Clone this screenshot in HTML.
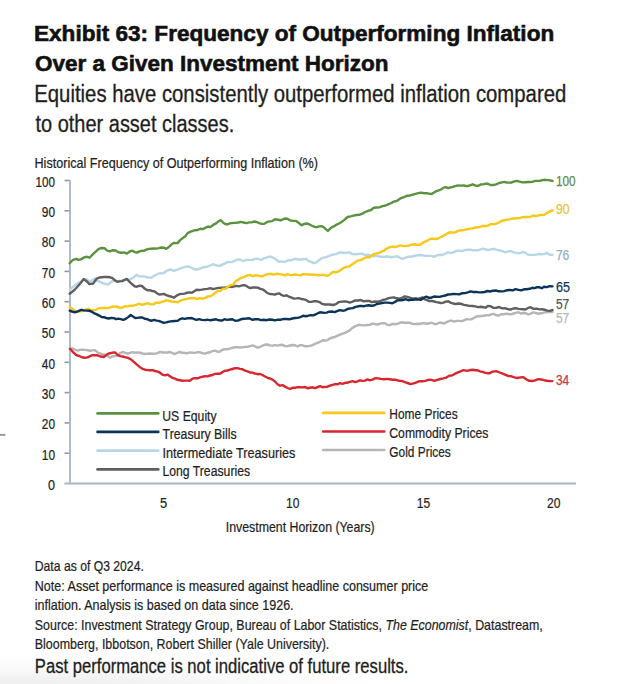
<!DOCTYPE html>
<html><head><meta charset="utf-8"><style>
html,body{margin:0;padding:0;background:#fff;width:640px;height:684px;overflow:hidden}
svg{display:block;font-family:"Liberation Sans", sans-serif}
</style></head><body>
<svg width="640" height="684" viewBox="0 0 640 684">
<defs><radialGradient id="sh" cx="0.5" cy="0.5" r="0.5"><stop offset="0" stop-color="#e4e4e4"/><stop offset="0.5" stop-color="#eeeeee" stop-opacity="0.7"/><stop offset="1" stop-color="#fff" stop-opacity="0"/></radialGradient></defs>
<rect width="640" height="684" fill="#fff"/>
<ellipse cx="20" cy="700" rx="420" ry="48" fill="url(#sh)"/>
<text x="34.0" y="40.8" font-size="22.6" font-weight="bold" fill="#111" text-anchor="start" textLength="520.2" lengthAdjust="spacingAndGlyphs" stroke="#111" stroke-width="0.6">Exhibit 63: Frequency of Outperforming Inflation</text>
<text x="35.0" y="71.2" font-size="22.6" font-weight="bold" fill="#111" text-anchor="start" textLength="353.5" lengthAdjust="spacingAndGlyphs" stroke="#111" stroke-width="0.6">Over a Given Investment Horizon</text>
<text x="34.25" y="101.5" font-size="23" font-weight="normal" fill="#1e1e1e" text-anchor="start" textLength="532.0" lengthAdjust="spacingAndGlyphs" stroke="#1e1e1e" stroke-width="0.3">Equities have consistently outperformed inflation compared</text>
<text x="35.5" y="131.5" font-size="23" font-weight="normal" fill="#1e1e1e" text-anchor="start" textLength="198.7" lengthAdjust="spacingAndGlyphs" stroke="#1e1e1e" stroke-width="0.3">to other asset classes.</text>
<text x="34.5" y="167.9" font-size="14.3" font-weight="normal" fill="#1e1e1e" text-anchor="start" textLength="283.5" lengthAdjust="spacingAndGlyphs" stroke-width="0.22" stroke="#1e1e1e">Historical Frequency of Outperforming Inflation (%)</text>
<text x="55" y="489.8" font-size="14" font-weight="normal" fill="#1e1e1e" text-anchor="end" textLength="7.0" lengthAdjust="spacingAndGlyphs" stroke-width="0.22" stroke="#1e1e1e">0</text>
<line x1="64.5" y1="453.2" x2="70" y2="453.2" stroke="#8f9aa6" stroke-width="1.6"/>
<text x="55" y="459.5" font-size="14" font-weight="normal" fill="#1e1e1e" text-anchor="end" textLength="13.2" lengthAdjust="spacingAndGlyphs" stroke-width="0.22" stroke="#1e1e1e">10</text>
<line x1="64.5" y1="422.9" x2="70" y2="422.9" stroke="#8f9aa6" stroke-width="1.6"/>
<text x="55" y="429.2" font-size="14" font-weight="normal" fill="#1e1e1e" text-anchor="end" textLength="13.2" lengthAdjust="spacingAndGlyphs" stroke-width="0.22" stroke="#1e1e1e">20</text>
<line x1="64.5" y1="392.6" x2="70" y2="392.6" stroke="#8f9aa6" stroke-width="1.6"/>
<text x="55" y="398.9" font-size="14" font-weight="normal" fill="#1e1e1e" text-anchor="end" textLength="13.2" lengthAdjust="spacingAndGlyphs" stroke-width="0.22" stroke="#1e1e1e">30</text>
<line x1="64.5" y1="362.3" x2="70" y2="362.3" stroke="#8f9aa6" stroke-width="1.6"/>
<text x="55" y="368.6" font-size="14" font-weight="normal" fill="#1e1e1e" text-anchor="end" textLength="13.2" lengthAdjust="spacingAndGlyphs" stroke-width="0.22" stroke="#1e1e1e">40</text>
<line x1="64.5" y1="332.0" x2="70" y2="332.0" stroke="#8f9aa6" stroke-width="1.6"/>
<text x="55" y="338.3" font-size="14" font-weight="normal" fill="#1e1e1e" text-anchor="end" textLength="13.2" lengthAdjust="spacingAndGlyphs" stroke-width="0.22" stroke="#1e1e1e">50</text>
<line x1="64.5" y1="301.7" x2="70" y2="301.7" stroke="#8f9aa6" stroke-width="1.6"/>
<text x="55" y="308.0" font-size="14" font-weight="normal" fill="#1e1e1e" text-anchor="end" textLength="13.2" lengthAdjust="spacingAndGlyphs" stroke-width="0.22" stroke="#1e1e1e">60</text>
<line x1="64.5" y1="271.4" x2="70" y2="271.4" stroke="#8f9aa6" stroke-width="1.6"/>
<text x="55" y="277.7" font-size="14" font-weight="normal" fill="#1e1e1e" text-anchor="end" textLength="13.2" lengthAdjust="spacingAndGlyphs" stroke-width="0.22" stroke="#1e1e1e">70</text>
<line x1="64.5" y1="241.1" x2="70" y2="241.1" stroke="#8f9aa6" stroke-width="1.6"/>
<text x="55" y="247.4" font-size="14" font-weight="normal" fill="#1e1e1e" text-anchor="end" textLength="13.2" lengthAdjust="spacingAndGlyphs" stroke-width="0.22" stroke="#1e1e1e">80</text>
<line x1="64.5" y1="210.8" x2="70" y2="210.8" stroke="#8f9aa6" stroke-width="1.6"/>
<text x="55" y="217.1" font-size="14" font-weight="normal" fill="#1e1e1e" text-anchor="end" textLength="13.2" lengthAdjust="spacingAndGlyphs" stroke-width="0.22" stroke="#1e1e1e">90</text>
<line x1="64.5" y1="180.5" x2="70" y2="180.5" stroke="#8f9aa6" stroke-width="1.6"/>
<text x="55" y="186.8" font-size="14" font-weight="normal" fill="#1e1e1e" text-anchor="end" textLength="19.4" lengthAdjust="spacingAndGlyphs" stroke-width="0.22" stroke="#1e1e1e">100</text>
<line x1="70" y1="180" x2="70" y2="483.5" stroke="#a5b6c9" stroke-width="1.8"/>
<line x1="64.5" y1="483.5" x2="576" y2="483.5" stroke="#a5b6c9" stroke-width="2"/>
<text x="163.7" y="508.0" font-size="14.6" font-weight="normal" fill="#1e1e1e" text-anchor="middle" textLength="7.2" lengthAdjust="spacingAndGlyphs" stroke-width="0.22" stroke="#1e1e1e">5</text>
<text x="292.8" y="508.0" font-size="14.6" font-weight="normal" fill="#1e1e1e" text-anchor="middle" textLength="13.4" lengthAdjust="spacingAndGlyphs" stroke-width="0.22" stroke="#1e1e1e">10</text>
<text x="423.4" y="508.0" font-size="14.6" font-weight="normal" fill="#1e1e1e" text-anchor="middle" textLength="13.4" lengthAdjust="spacingAndGlyphs" stroke-width="0.22" stroke="#1e1e1e">15</text>
<text x="553.75" y="508.0" font-size="14.6" font-weight="normal" fill="#1e1e1e" text-anchor="middle" textLength="13.4" lengthAdjust="spacingAndGlyphs" stroke-width="0.22" stroke="#1e1e1e">20</text>
<text x="225.8" y="531.9" font-size="14.5" font-weight="normal" fill="#1e1e1e" text-anchor="start" textLength="148.9" lengthAdjust="spacingAndGlyphs" stroke-width="0.22" stroke="#1e1e1e">Investment Horizon (Years)</text>
<path d="M70.0,348.8 L72.5,348.4 L75.0,349.6 L77.5,350.6 L80.0,349.9 L82.5,349.7 L85.0,349.9 L87.5,350.2 L90.0,350.7 L92.5,350.4 L95.0,350.2 L97.5,352.3 L100.0,353.3 L102.5,354.5 L105.0,354.7 L107.5,355.7 L110.0,357.8 L112.5,356.3 L115.0,356.1 L117.5,355.9 L120.0,353.4 L122.5,352.0 L125.0,352.6 L127.5,353.7 L130.0,352.8 L132.5,352.2 L135.0,352.6 L137.5,352.5 L140.0,352.7 L142.5,353.5 L145.0,354.0 L147.5,353.7 L150.0,353.5 L152.5,353.7 L155.0,353.6 L157.5,353.1 L160.0,351.9 L162.5,352.5 L165.0,352.5 L167.5,352.5 L170.0,352.0 L172.5,353.1 L175.0,354.0 L177.5,352.7 L180.0,352.0 L182.5,352.8 L185.0,353.0 L187.5,353.2 L190.0,352.4 L192.5,352.6 L195.0,352.9 L197.5,352.1 L200.0,352.3 L202.5,353.2 L205.0,353.6 L207.5,352.7 L210.0,352.2 L212.5,351.1 L215.0,350.6 L217.5,351.7 L220.0,351.5 L222.5,349.7 L225.0,349.3 L227.5,349.2 L230.0,348.6 L232.5,347.7 L235.0,347.2 L237.5,347.2 L240.0,347.5 L242.5,347.4 L245.0,346.8 L247.5,346.9 L250.0,346.1 L252.5,345.4 L255.0,346.4 L257.5,347.6 L260.0,347.0 L262.5,345.7 L265.0,344.7 L267.5,344.5 L270.0,345.4 L272.5,345.7 L275.0,345.1 L277.5,345.6 L280.0,345.0 L282.5,344.8 L285.0,346.1 L287.5,346.1 L290.0,345.5 L292.5,345.0 L295.0,345.3 L297.5,346.4 L300.0,345.2 L302.5,345.3 L305.0,346.2 L307.5,346.2 L310.0,345.9 L312.5,345.1 L315.0,343.9 L317.5,342.9 L320.0,341.9 L322.5,340.3 L325.0,340.5 L327.5,340.1 L330.0,338.3 L332.5,337.5 L335.0,336.9 L337.5,335.7 L340.0,334.6 L342.5,333.6 L345.0,332.8 L347.5,331.6 L350.0,330.1 L352.5,327.9 L355.0,326.4 L357.5,325.3 L360.0,324.8 L362.5,325.4 L365.0,325.3 L367.5,325.0 L370.0,324.7 L372.5,323.7 L375.0,324.0 L377.5,324.7 L379.9,323.7 L382.4,323.1 L384.9,323.2 L387.3,324.8 L389.8,325.1 L392.3,323.8 L394.8,324.3 L397.2,324.0 L399.7,322.8 L402.2,322.3 L404.7,322.7 L407.2,322.7 L409.6,322.7 L412.1,323.8 L414.6,324.1 L417.0,323.7 L419.5,324.0 L422.0,323.3 L424.4,323.3 L426.9,323.7 L429.4,323.2 L431.8,322.7 L434.3,324.0 L436.8,324.0 L439.3,322.7 L441.8,322.8 L444.2,323.5 L446.7,322.1 L449.2,320.9 L451.7,320.7 L454.1,321.6 L456.6,320.9 L459.1,320.9 L461.5,321.1 L464.0,320.5 L466.5,319.1 L469.0,319.4 L471.4,319.4 L473.9,318.0 L476.4,316.5 L478.9,316.2 L481.4,316.0 L483.8,315.8 L486.3,315.3 L488.8,315.3 L491.2,314.4 L493.7,313.9 L496.2,315.2 L498.6,315.6 L501.1,314.2 L503.6,314.3 L506.0,313.7 L508.5,314.0 L511.0,314.4 L513.5,313.5 L516.0,312.9 L518.4,312.2 L520.9,313.5 L523.4,313.0 L525.9,313.3 L528.3,314.3 L530.8,313.6 L533.3,312.3 L535.7,312.9 L538.2,313.8 L541.1,313.3 L543.9,312.6 L546.8,312.0 L549.6,311.7 L552.5,312.0" fill="none" stroke="#b5b5b5" stroke-width="2.4" stroke-linejoin="round" stroke-linecap="round"/>
<path d="M70.0,348.8 L73.1,352.1 L76.2,355.1 L79.4,356.0 L82.5,357.5 L85.0,357.8 L87.5,357.4 L90.0,356.1 L92.5,355.2 L95.0,355.1 L97.5,355.3 L100.6,356.5 L103.8,357.0 L106.2,355.1 L108.8,353.5 L111.9,352.8 L115.0,352.4 L117.5,354.8 L120.0,356.1 L122.5,356.5 L125.0,357.2 L127.5,357.6 L130.6,359.2 L133.8,361.9 L136.9,364.6 L140.0,367.1 L142.5,368.9 L145.0,369.7 L147.5,370.1 L150.0,370.2 L152.5,370.1 L155.0,371.0 L157.5,371.6 L160.0,372.7 L162.5,374.7 L165.0,375.3 L167.5,374.6 L170.0,376.3 L172.5,377.9 L175.0,378.6 L177.5,379.8 L180.0,380.3 L182.5,380.8 L185.0,380.6 L187.5,380.6 L190.0,380.7 L192.5,378.6 L195.0,378.1 L197.5,378.3 L200.0,377.3 L202.5,376.7 L205.0,376.3 L207.5,376.4 L210.0,375.5 L212.5,375.0 L215.0,373.9 L217.5,373.6 L220.0,373.7 L222.5,372.0 L225.0,370.7 L227.5,370.5 L230.0,369.7 L232.5,369.0 L235.0,368.2 L237.5,368.1 L240.0,368.9 L242.5,369.2 L245.0,370.7 L247.5,371.3 L250.0,372.5 L252.5,372.6 L255.0,373.5 L257.5,374.2 L260.0,374.0 L262.5,375.0 L265.0,376.5 L267.5,377.8 L270.0,378.5 L272.5,379.6 L275.0,381.5 L277.5,384.2 L280.0,385.7 L282.5,385.1 L285.0,386.6 L287.5,388.0 L290.0,389.0 L292.5,387.8 L295.0,387.8 L297.5,387.1 L300.0,387.2 L302.5,387.4 L305.0,387.0 L307.5,388.2 L310.0,387.7 L312.5,387.3 L315.0,388.2 L317.5,387.2 L320.0,386.2 L322.5,387.2 L325.0,386.9 L327.5,386.7 L330.0,385.7 L332.5,384.8 L335.0,384.2 L337.5,384.3 L340.0,383.2 L342.5,383.8 L345.0,382.8 L347.5,382.7 L350.0,381.9 L352.5,381.2 L355.0,382.1 L357.5,381.3 L360.0,380.3 L362.5,380.9 L365.0,380.6 L367.5,379.4 L370.0,380.3 L372.5,379.7 L375.0,378.2 L378.0,378.4 L380.9,378.9 L383.9,379.2 L386.9,378.9 L389.8,379.2 L392.8,379.7 L395.8,379.8 L398.7,380.7 L401.7,380.9 L404.7,382.1 L407.6,383.0 L410.6,384.1 L413.6,383.4 L416.5,382.3 L419.5,381.1 L422.5,381.3 L425.4,380.9 L428.4,379.8 L431.4,379.9 L434.3,380.9 L437.3,379.9 L440.3,379.0 L443.2,378.4 L446.2,377.6 L449.2,375.7 L452.1,375.4 L455.1,373.7 L458.1,372.3 L461.1,371.2 L463.5,370.2 L465.8,370.7 L468.2,370.6 L470.5,370.0 L472.9,369.8 L475.3,370.2 L477.7,370.3 L480.0,371.3 L482.4,371.9 L484.8,372.7 L487.2,373.2 L489.6,373.2 L491.9,371.9 L494.3,371.4 L496.7,371.3 L499.7,372.5 L502.6,373.7 L505.6,374.9 L508.6,376.1 L511.5,376.3 L514.5,377.3 L517.5,378.0 L520.4,377.4 L523.4,377.2 L526.3,379.4 L529.3,380.8 L532.3,381.0 L535.2,380.4 L538.2,379.1 L541.2,379.5 L544.1,380.2 L547.1,380.8 L549.7,381.0 L552.3,381.1" fill="none" stroke="#d8262e" stroke-width="2.4" stroke-linejoin="round" stroke-linecap="round"/>
<path d="M69.7,290.0 L71.9,287.7 L74.1,286.0 L76.3,284.2 L78.8,282.9 L81.3,281.6 L83.8,279.1 L86.6,279.3 L89.4,281.6 L92.2,280.4 L95.0,278.4 L97.5,280.9 L100.0,281.9 L102.5,283.1 L105.3,283.8 L108.2,284.6 L111.0,282.1 L113.8,280.5 L116.3,281.4 L118.8,280.9 L121.3,280.8 L123.8,280.7 L126.3,279.3 L128.8,279.6 L131.3,278.9 L133.8,277.0 L136.3,274.9 L138.8,276.1 L141.3,276.4 L143.8,276.4 L146.3,277.2 L148.8,277.4 L151.3,277.9 L153.8,276.0 L156.3,274.8 L158.8,273.5 L161.3,273.3 L163.8,273.1 L166.3,271.0 L168.8,269.8 L171.3,269.7 L173.8,270.8 L176.9,269.8 L180.0,268.6 L182.5,267.6 L185.1,266.9 L187.6,266.3 L190.1,267.1 L192.7,268.4 L195.2,269.7 L197.7,269.3 L200.3,268.3 L202.8,267.5 L205.3,267.0 L207.9,266.5 L210.4,265.5 L212.8,264.2 L215.2,264.8 L217.5,265.9 L219.9,265.9 L222.3,264.5 L224.7,263.7 L227.0,262.2 L229.4,262.1 L232.2,261.9 L235.1,260.6 L238.0,259.3 L240.8,260.0 L243.7,261.2 L246.5,259.7 L249.3,259.9 L252.2,260.1 L254.6,258.9 L256.9,258.6 L259.3,259.4 L261.7,259.9 L264.1,258.1 L266.5,257.6 L268.9,256.8 L271.3,256.8 L273.8,258.1 L276.4,259.8 L278.9,261.8 L281.3,261.3 L283.6,261.8 L286.0,261.3 L288.4,260.2 L290.6,260.4 L292.8,259.6 L295.0,258.8 L297.9,259.2 L300.9,259.7 L303.8,259.0 L306.2,259.0 L308.7,261.1 L311.2,261.9 L313.6,263.1 L316.1,262.6 L318.6,260.4 L321.0,258.7 L323.5,257.7 L326.1,257.1 L328.6,256.2 L331.2,255.2 L333.8,254.3 L336.3,254.1 L338.9,252.7 L341.5,252.3 L344.1,253.0 L346.8,252.7 L349.4,252.4 L352.0,253.9 L354.6,254.3 L357.3,254.1 L359.9,253.6 L362.6,254.0 L365.2,255.1 L367.8,254.6 L370.4,255.3 L373.1,256.4 L375.7,255.7 L378.3,256.3 L380.9,256.7 L383.6,256.9 L386.2,256.5 L388.9,256.8 L391.5,257.3 L394.4,256.6 L397.4,256.3 L400.3,258.0 L403.0,258.8 L405.8,257.5 L408.5,256.6 L411.2,256.7 L414.1,256.0 L417.1,255.4 L420.0,255.0 L422.8,255.3 L425.6,256.0 L428.4,255.9 L431.2,255.9 L434.0,256.9 L436.8,255.4 L439.6,254.8 L442.5,255.0 L445.3,253.7 L448.1,252.4 L450.9,252.9 L453.7,252.1 L456.6,250.8 L459.4,250.8 L462.2,251.1 L464.9,250.1 L467.6,249.6 L470.4,249.7 L473.1,250.4 L475.8,250.1 L478.5,250.2 L480.9,249.4 L483.2,248.7 L485.6,249.4 L487.9,250.2 L490.3,249.6 L492.6,249.0 L495.0,249.0 L497.3,250.0 L499.6,250.3 L502.4,251.2 L505.2,252.3 L508.1,251.4 L510.9,251.0 L513.7,252.3 L516.0,252.9 L518.4,253.3 L520.7,252.9 L523.0,252.2 L525.4,252.9 L527.7,254.6 L530.0,254.8 L532.4,254.9 L534.8,254.7 L537.1,254.4 L539.4,254.0 L541.8,254.4 L544.5,253.9 L547.1,253.0 L549.8,254.8 L552.5,254.8" fill="none" stroke="#b8d6e6" stroke-width="2.4" stroke-linejoin="round" stroke-linecap="round"/>
<path d="M69.7,293.8 L72.1,291.9 L74.4,290.0 L77.2,287.0 L80.0,283.7 L83.8,279.1 L86.6,281.2 L89.4,284.1 L93.1,283.5 L96.9,278.6 L99.4,277.5 L101.9,277.2 L104.4,276.9 L107.2,277.0 L110.0,277.3 L112.5,278.2 L115.0,280.4 L117.5,281.8 L119.8,281.4 L122.2,281.1 L124.6,279.8 L126.9,279.0 L129.4,281.6 L131.9,284.0 L134.4,286.2 L136.9,286.7 L139.4,285.7 L141.9,286.0 L144.7,288.6 L147.5,290.2 L149.8,290.2 L152.2,291.0 L154.6,291.4 L156.9,293.2 L159.2,294.5 L161.6,294.3 L164.0,293.9 L166.3,295.2 L168.8,296.0 L171.3,296.7 L173.8,297.7 L177.6,295.1 L180.0,294.0 L182.4,293.9 L184.8,293.6 L187.1,292.7 L189.5,292.4 L191.9,292.8 L194.2,291.3 L196.6,289.7 L199.0,290.0 L201.8,289.6 L204.7,289.1 L207.6,288.9 L210.4,288.1 L213.2,289.1 L216.1,288.4 L219.0,287.9 L221.8,287.8 L224.3,287.8 L226.9,287.3 L229.4,286.6 L231.8,287.0 L234.2,286.3 L236.5,285.9 L238.9,286.4 L241.3,285.7 L243.7,285.1 L246.0,285.7 L248.4,287.3 L250.8,288.0 L253.1,287.4 L255.5,287.5 L257.9,287.6 L260.3,288.9 L262.7,289.4 L265.1,291.1 L267.5,293.1 L269.9,294.0 L272.2,294.1 L274.6,294.7 L277.0,293.8 L279.4,293.4 L281.8,295.2 L284.1,295.9 L286.5,295.3 L289.0,296.7 L291.6,297.7 L294.1,298.6 L296.5,298.4 L298.9,298.1 L301.2,299.0 L303.6,299.3 L306.0,299.9 L308.7,301.7 L311.4,301.9 L314.2,301.1 L316.9,301.3 L319.5,302.1 L322.2,303.9 L324.8,304.5 L327.5,304.4 L330.1,304.5 L333.0,305.0 L336.0,304.1 L338.9,302.1 L341.6,301.6 L344.4,301.4 L347.1,301.6 L349.8,302.6 L352.6,301.7 L355.3,300.4 L358.1,300.5 L360.8,300.0 L363.6,301.4 L366.3,301.0 L369.1,300.9 L371.8,302.1 L374.5,301.5 L377.2,301.8 L380.0,301.3 L382.7,300.0 L385.6,299.3 L388.6,298.1 L391.5,297.6 L394.1,297.5 L396.7,298.3 L399.4,298.7 L402.0,297.8 L404.6,296.4 L407.5,296.9 L410.5,297.9 L413.4,298.6 L415.6,298.2 L417.8,299.0 L420.0,298.1 L422.4,297.5 L424.7,299.4 L427.0,300.2 L429.4,301.0 L431.7,300.9 L434.1,301.5 L436.4,302.1 L438.8,302.5 L441.1,303.1 L443.5,302.6 L445.8,301.6 L448.2,301.3 L450.5,302.6 L452.9,303.5 L455.7,304.0 L458.5,303.5 L461.2,303.8 L464.0,304.9 L466.8,305.3 L469.6,305.9 L472.4,306.0 L475.3,306.4 L478.1,307.1 L480.9,306.8 L483.2,307.2 L485.6,307.7 L487.9,305.9 L490.3,306.1 L493.2,307.8 L496.1,307.9 L499.1,307.0 L502.0,308.4 L504.8,308.2 L507.6,309.0 L510.4,309.7 L513.2,308.5 L516.0,308.2 L518.3,308.9 L520.7,309.1 L523.0,309.2 L525.4,309.5 L527.7,308.2 L530.6,307.2 L533.5,308.9 L536.5,308.7 L539.4,309.4 L542.0,309.2 L544.6,309.7 L547.3,310.6 L549.9,310.9 L552.5,310.0" fill="none" stroke="#5f5f5f" stroke-width="2.4" stroke-linejoin="round" stroke-linecap="round"/>
<path d="M69.7,306.9 L71.9,308.5 L74.1,310.2 L76.3,311.8 L78.8,311.7 L81.3,311.1 L83.8,310.7 L86.1,309.3 L88.4,308.9 L90.8,310.2 L93.1,310.1 L95.4,310.0 L97.8,308.7 L100.2,308.2 L102.5,308.0 L105.3,308.0 L108.2,308.2 L111.0,307.0 L113.8,306.4 L116.6,306.5 L119.4,307.5 L122.2,307.7 L125.0,306.2 L127.8,306.4 L130.7,305.7 L133.5,305.5 L136.3,304.9 L139.1,303.7 L141.9,304.8 L144.7,304.3 L147.5,303.2 L150.3,304.2 L153.2,304.4 L156.0,302.7 L158.8,302.8 L161.3,302.2 L163.8,301.4 L166.3,300.1 L169.1,301.0 L171.9,301.5 L174.8,301.8 L177.6,302.2 L180.4,300.7 L183.1,299.7 L185.9,299.1 L188.6,298.5 L191.4,298.0 L194.2,298.2 L197.1,299.0 L200.0,298.2 L202.8,298.6 L205.3,297.9 L207.9,296.4 L210.4,296.3 L212.9,294.8 L215.5,292.5 L218.0,291.0 L220.5,290.7 L223.1,288.8 L225.6,288.7 L228.1,286.5 L230.7,285.1 L233.2,284.6 L235.7,281.3 L238.3,279.8 L240.8,278.0 L243.2,277.4 L245.6,276.2 L247.9,275.1 L250.3,274.9 L252.7,276.2 L255.1,275.5 L257.4,275.4 L259.8,276.2 L262.7,276.2 L265.6,274.9 L268.4,273.9 L271.3,274.0 L274.1,274.6 L277.0,273.7 L279.9,274.1 L282.7,274.9 L285.2,275.3 L287.6,274.2 L290.1,275.1 L292.5,274.9 L295.0,274.5 L297.8,274.9 L300.5,275.3 L303.2,274.2 L306.0,274.1 L308.6,274.7 L311.2,274.4 L313.9,274.7 L316.5,275.0 L319.1,275.3 L321.9,274.7 L324.6,275.2 L327.4,275.9 L330.1,274.2 L332.9,271.9 L335.6,272.3 L338.4,271.5 L341.1,269.7 L343.8,267.8 L346.6,266.9 L349.3,266.4 L352.0,264.6 L354.9,262.6 L357.9,260.5 L360.8,260.1 L363.7,258.5 L366.7,257.1 L369.6,257.2 L372.5,254.9 L375.4,253.6 L378.3,253.3 L381.1,251.9 L383.8,250.7 L386.6,248.6 L389.3,247.3 L392.1,246.6 L394.8,247.0 L397.6,246.3 L400.3,245.4 L403.0,246.1 L405.8,246.1 L408.5,245.8 L411.2,244.6 L414.1,244.2 L417.1,244.8 L420.0,244.7 L422.9,242.7 L425.9,241.4 L428.8,239.7 L431.7,238.5 L434.6,239.0 L437.5,238.8 L440.5,237.3 L443.4,235.8 L445.7,234.5 L448.1,233.0 L450.4,232.2 L452.8,232.5 L455.1,232.4 L458.0,230.9 L461.0,230.3 L463.9,230.1 L466.8,229.2 L469.6,228.7 L472.4,228.4 L475.3,227.5 L478.1,227.3 L480.9,226.6 L483.2,225.8 L485.6,226.0 L487.9,225.6 L490.3,224.2 L493.2,224.2 L496.1,223.7 L499.1,222.5 L502.0,220.7 L504.3,220.3 L506.7,219.7 L509.0,219.4 L511.4,218.8 L513.7,218.5 L516.6,218.3 L519.5,218.1 L522.5,217.2 L525.4,216.9 L527.7,217.0 L530.1,217.0 L532.4,215.8 L534.8,215.8 L537.1,216.1 L539.4,215.2 L541.8,214.9 L544.1,214.7 L546.9,212.9 L549.7,211.5 L552.5,210.5" fill="none" stroke="#f5c81a" stroke-width="2.4" stroke-linejoin="round" stroke-linecap="round"/>
<path d="M69.7,310.7 L71.9,311.5 L74.1,312.2 L76.3,312.0 L78.8,310.9 L81.3,309.8 L83.8,310.4 L86.6,310.6 L89.4,310.7 L91.9,311.8 L94.4,313.4 L96.9,314.4 L99.2,315.6 L101.6,317.0 L104.0,317.2 L106.3,318.0 L108.8,318.5 L111.3,317.9 L113.8,318.1 L116.2,319.2 L118.5,318.7 L120.8,319.2 L123.2,319.8 L125.7,318.9 L128.2,317.1 L130.7,315.0 L133.0,316.5 L135.3,318.0 L137.7,317.9 L140.0,317.4 L142.3,317.5 L144.7,318.8 L147.1,319.1 L149.4,320.3 L151.8,320.7 L154.1,319.9 L156.5,320.6 L158.8,320.9 L161.3,321.9 L163.8,322.9 L166.3,322.4 L169.1,321.6 L171.9,321.3 L174.8,321.0 L177.6,320.9 L180.0,319.1 L182.4,318.3 L184.7,318.9 L187.1,318.3 L189.5,318.2 L191.9,318.0 L194.2,319.2 L196.6,319.9 L199.0,319.1 L201.8,319.9 L204.7,320.1 L207.6,319.7 L210.4,320.3 L213.2,319.8 L216.1,319.3 L219.0,320.3 L221.8,320.6 L224.5,319.2 L227.1,319.9 L229.8,319.5 L232.4,319.2 L235.1,320.7 L237.9,320.6 L240.8,319.3 L243.7,318.7 L246.5,318.5 L249.4,318.2 L252.2,319.8 L255.1,319.3 L258.0,319.1 L260.9,320.1 L263.7,319.7 L266.5,320.2 L269.4,319.5 L272.2,319.8 L275.1,320.4 L277.9,319.7 L280.8,319.7 L283.6,319.0 L286.5,319.0 L289.3,319.3 L292.2,318.5 L295.0,318.0 L297.6,317.9 L300.3,317.2 L302.9,315.8 L305.6,316.2 L308.2,315.7 L310.8,315.1 L313.4,315.4 L316.1,314.2 L318.7,312.8 L321.3,312.3 L323.9,312.9 L326.6,312.6 L329.2,311.7 L331.9,311.5 L334.5,312.1 L337.1,311.1 L339.7,310.1 L342.4,310.7 L345.0,310.4 L347.6,309.0 L350.2,308.4 L352.9,308.1 L355.5,306.9 L358.2,306.3 L360.8,305.9 L363.4,306.3 L366.0,305.6 L368.7,305.2 L371.3,305.7 L373.9,305.5 L376.5,304.2 L379.2,303.6 L381.8,303.1 L384.5,302.6 L387.1,302.6 L389.7,302.9 L392.4,303.2 L395.0,301.9 L397.7,300.3 L400.3,300.4 L402.9,300.0 L405.5,299.2 L408.2,300.2 L410.8,299.7 L413.4,299.7 L416.0,299.4 L418.5,299.6 L421.1,299.7 L423.7,297.8 L426.3,296.7 L428.9,297.8 L431.4,297.7 L434.0,296.5 L436.8,296.7 L439.6,296.9 L442.5,296.1 L445.3,295.5 L448.1,294.5 L450.9,294.3 L453.7,293.9 L456.6,294.1 L459.4,294.4 L462.2,293.2 L465.0,293.1 L467.8,292.4 L470.6,291.4 L473.4,292.0 L476.2,291.9 L479.0,292.4 L481.8,292.3 L484.7,292.0 L487.5,291.0 L490.3,291.5 L493.1,290.7 L495.9,290.5 L498.7,291.3 L501.5,291.4 L504.3,291.1 L507.1,290.2 L509.9,290.0 L512.8,290.4 L515.6,289.2 L518.4,289.8 L521.2,290.4 L524.0,289.3 L526.8,289.2 L529.6,288.8 L532.4,287.8 L534.7,288.1 L537.1,287.1 L539.4,287.3 L541.8,288.2 L544.1,286.8 L546.9,287.1 L549.7,286.2 L552.5,286.4" fill="none" stroke="#0e3358" stroke-width="2.4" stroke-linejoin="round" stroke-linecap="round"/>
<path d="M69.7,263.3 L72.5,260.2 L76.3,258.9 L78.3,259.8 L80.4,259.6 L82.5,258.4 L84.5,257.2 L87.0,256.8 L89.6,257.7 L92.7,254.4 L95.7,251.6 L98.8,248.8 L101.6,248.0 L104.4,248.2 L107.2,250.7 L110.0,251.3 L112.8,250.2 L115.6,250.5 L118.4,252.3 L121.3,252.8 L124.1,252.4 L126.9,253.6 L129.7,251.5 L132.5,250.7 L134.8,252.1 L137.2,252.6 L139.4,251.4 L141.6,250.8 L143.8,250.9 L146.3,249.7 L148.8,248.9 L151.3,248.7 L153.8,248.5 L156.3,248.6 L158.8,248.1 L161.3,247.5 L163.8,247.7 L166.3,248.8 L168.8,247.0 L171.3,244.6 L173.8,243.0 L177.6,243.1 L180.4,239.9 L183.2,237.8 L185.4,236.1 L187.6,233.1 L190.1,231.9 L192.7,230.9 L195.2,230.2 L197.7,230.0 L200.3,228.7 L202.8,229.1 L205.3,227.8 L207.9,226.6 L210.4,227.0 L213.2,224.9 L216.1,223.4 L218.5,221.3 L220.9,220.2 L223.2,222.8 L225.6,224.2 L228.1,224.2 L230.7,223.2 L233.2,222.9 L235.7,222.9 L238.3,222.5 L240.8,221.9 L243.7,222.5 L246.5,223.1 L249.3,222.4 L252.2,222.2 L254.6,221.5 L256.9,222.2 L259.3,223.1 L261.7,223.9 L264.3,223.7 L266.8,222.2 L269.4,221.4 L272.2,221.1 L275.1,219.3 L278.0,219.8 L280.8,220.3 L284.6,218.5 L287.5,218.8 L290.3,220.5 L293.1,220.9 L296.0,221.0 L298.8,222.9 L301.6,225.3 L303.8,224.1 L306.0,223.5 L308.2,223.7 L311.4,225.5 L314.7,226.9 L316.9,227.2 L319.1,226.4 L321.3,226.2 L323.5,227.2 L325.7,229.1 L327.9,230.9 L330.1,228.7 L332.3,226.9 L334.5,226.1 L336.7,224.6 L338.9,223.5 L341.1,222.3 L344.4,219.9 L347.6,217.0 L350.5,216.4 L353.5,215.7 L356.4,215.0 L359.3,214.8 L362.3,213.7 L365.2,212.0 L368.1,210.8 L371.0,210.0 L373.9,207.8 L376.8,207.5 L379.8,207.2 L382.7,206.1 L385.6,205.5 L388.6,204.1 L391.5,203.0 L393.7,201.6 L395.9,201.3 L398.1,200.1 L401.0,198.1 L403.9,197.1 L406.8,195.8 L409.7,195.6 L412.7,194.7 L415.6,193.8 L418.4,193.2 L421.1,192.6 L424.1,193.2 L427.0,193.1 L429.3,193.8 L431.7,194.0 L434.0,192.5 L436.4,191.1 L438.7,190.4 L441.1,189.5 L443.5,187.6 L445.8,187.1 L448.1,188.2 L450.5,187.4 L452.8,186.8 L455.1,186.1 L458.0,185.4 L461.0,185.6 L463.9,185.5 L466.8,186.2 L469.7,185.5 L472.6,184.3 L475.6,185.6 L478.5,185.8 L480.9,184.4 L483.2,184.4 L485.6,183.7 L487.9,183.8 L490.3,185.0 L493.2,185.0 L496.1,184.3 L499.1,183.0 L502.0,182.4 L504.3,181.9 L506.7,182.5 L509.0,182.6 L511.4,182.5 L513.7,181.7 L516.6,180.8 L519.5,181.6 L522.5,182.4 L525.4,182.2 L527.7,182.0 L530.1,182.0 L532.4,181.9 L534.8,181.0 L537.1,180.9 L539.7,180.9 L542.2,180.1 L544.8,179.7 L547.4,180.1 L549.9,180.3 L552.5,181.0" fill="none" stroke="#5b9240" stroke-width="2.4" stroke-linejoin="round" stroke-linecap="round"/>
<line x1="97.5" y1="413.4" x2="158.3" y2="413.4" stroke="#5b9240" stroke-width="2.6" stroke-linecap="round"/>
<text x="162.3" y="420.6" font-size="14.7" font-weight="normal" fill="#1e1e1e" text-anchor="start" textLength="54.3" lengthAdjust="spacingAndGlyphs" stroke-width="0.22" stroke="#1e1e1e">US Equity</text>
<line x1="97.5" y1="431.9" x2="158.3" y2="431.9" stroke="#0e3358" stroke-width="2.6" stroke-linecap="round"/>
<text x="162.6" y="439.0" font-size="14.7" font-weight="normal" fill="#1e1e1e" text-anchor="start" textLength="74.0" lengthAdjust="spacingAndGlyphs" stroke-width="0.22" stroke="#1e1e1e">Treasury Bills</text>
<line x1="97.5" y1="450.6" x2="158.3" y2="450.6" stroke="#b8d6e6" stroke-width="2.6" stroke-linecap="round"/>
<text x="162.4" y="457.7" font-size="14.7" font-weight="normal" fill="#1e1e1e" text-anchor="start" textLength="133.0" lengthAdjust="spacingAndGlyphs" stroke-width="0.22" stroke="#1e1e1e">Intermediate Treasuries</text>
<line x1="97.5" y1="469.4" x2="158.3" y2="469.4" stroke="#5f5f5f" stroke-width="2.6" stroke-linecap="round"/>
<text x="162.4" y="475.8" font-size="14.7" font-weight="normal" fill="#1e1e1e" text-anchor="start" textLength="87.7" lengthAdjust="spacingAndGlyphs" stroke-width="0.22" stroke="#1e1e1e">Long Treasuries</text>
<line x1="323.2" y1="412.9" x2="384.3" y2="412.9" stroke="#f5c81a" stroke-width="2.6" stroke-linecap="round"/>
<text x="389.3" y="419.3" font-size="14.7" font-weight="normal" fill="#1e1e1e" text-anchor="start" textLength="68.4" lengthAdjust="spacingAndGlyphs" stroke-width="0.22" stroke="#1e1e1e">Home Prices</text>
<line x1="323.2" y1="431.5" x2="384.3" y2="431.5" stroke="#d8262e" stroke-width="2.6" stroke-linecap="round"/>
<text x="389.3" y="437.8" font-size="14.7" font-weight="normal" fill="#1e1e1e" text-anchor="start" textLength="99.1" lengthAdjust="spacingAndGlyphs" stroke-width="0.22" stroke="#1e1e1e">Commodity Prices</text>
<line x1="323.2" y1="450" x2="384.3" y2="450" stroke="#b5b5b5" stroke-width="2.6" stroke-linecap="round"/>
<text x="389.3" y="456.9" font-size="14.7" font-weight="normal" fill="#1e1e1e" text-anchor="start" textLength="61.5" lengthAdjust="spacingAndGlyphs" stroke-width="0.22" stroke="#1e1e1e">Gold Prices</text>
<text x="555.9" y="186.4" font-size="14.2" font-weight="normal" fill="#5f8a4c" text-anchor="start" textLength="19.6" lengthAdjust="spacingAndGlyphs" stroke="#5f8a4c" stroke-width="0.25">100</text>
<text x="555.9" y="213.7" font-size="14.2" font-weight="normal" fill="#e9c439" text-anchor="start" textLength="13.6" lengthAdjust="spacingAndGlyphs" stroke="#e9c439" stroke-width="0.25">90</text>
<text x="555.9" y="259.8" font-size="14.2" font-weight="normal" fill="#93afc2" text-anchor="start" textLength="13.4" lengthAdjust="spacingAndGlyphs" stroke="#93afc2" stroke-width="0.25">76</text>
<text x="555.9" y="291.7" font-size="14.2" font-weight="normal" fill="#0f3358" text-anchor="start" textLength="14.0" lengthAdjust="spacingAndGlyphs" stroke="#0f3358" stroke-width="0.25">65</text>
<text x="555.9" y="309.1" font-size="14.2" font-weight="normal" fill="#555" text-anchor="start" textLength="13.4" lengthAdjust="spacingAndGlyphs" stroke="#555" stroke-width="0.25">57</text>
<text x="555.9" y="322.8" font-size="14.2" font-weight="normal" fill="#b8b8b8" text-anchor="start" textLength="13.4" lengthAdjust="spacingAndGlyphs" stroke="#b8b8b8" stroke-width="0.25">57</text>
<text x="555.9" y="385.0" font-size="14.2" font-weight="normal" fill="#c8353f" text-anchor="start" textLength="13.2" lengthAdjust="spacingAndGlyphs" stroke="#c8353f" stroke-width="0.25">34</text>
<text x="34.8" y="571.4" font-size="14.8" font-weight="normal" fill="#1e1e1e" text-anchor="start" textLength="109.0" lengthAdjust="spacingAndGlyphs" stroke-width="0.22" stroke="#1e1e1e">Data as of Q3 2024.</text>
<text x="34.8" y="591.1" font-size="14.8" font-weight="normal" fill="#1e1e1e" text-anchor="start" textLength="393.5" lengthAdjust="spacingAndGlyphs" stroke-width="0.22" stroke="#1e1e1e">Note: Asset performance is measured against headline consumer price</text>
<text x="34.8" y="610.4" font-size="14.8" font-weight="normal" fill="#1e1e1e" text-anchor="start" textLength="258.8" lengthAdjust="spacingAndGlyphs" stroke-width="0.22" stroke="#1e1e1e">inflation. Analysis is based on data since 1926.</text>
<text x="34.8" y="629.9" font-size="14.8" font-weight="normal" fill="#1e1e1e" text-anchor="start" textLength="508.0" lengthAdjust="spacingAndGlyphs" stroke-width="0.22" stroke="#1e1e1e">Source: Investment Strategy Group, Bureau of Labor Statistics, <tspan font-style="italic">The Economist</tspan>, Datastream,</text>
<text x="34.8" y="648.9" font-size="14.8" font-weight="normal" fill="#1e1e1e" text-anchor="start" textLength="294.5" lengthAdjust="spacingAndGlyphs" stroke-width="0.22" stroke="#1e1e1e">Bloomberg, Ibbotson, Robert Shiller (Yale University).</text>
<text x="34.8" y="673.3" font-size="19.4" font-weight="normal" fill="#1e1e1e" text-anchor="start" textLength="373.6" lengthAdjust="spacingAndGlyphs" stroke="#1e1e1e" stroke-width="0.3">Past performance is not indicative of future results.</text>
<line x1="0" y1="434.9" x2="5.5" y2="434.9" stroke="#9a9aa6" stroke-width="2"/>
</svg>
</body></html>
